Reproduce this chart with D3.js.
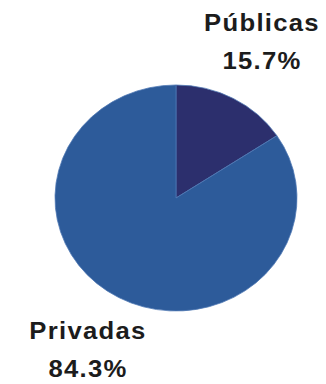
<!DOCTYPE html>
<html>
<head>
<meta charset="utf-8">
<script src="https://cdn.jsdelivr.net/npm/d3@7"></script>
<style>
  html, body { margin: 0; padding: 0; background: #ffffff; }
  svg { display: block; }
</style>
</head>
<body>
<script>
// Share of institutions by type (percent)
const categories = ["Públicas", "Privadas"];
const shares = [15.7, 84.3];
const colors = ["#2c2f6d", "#2d5b9a"];

const width = 326, height = 384;
const svg = d3.select("body").append("svg")
  .attr("width", width).attr("height", height);

const cx = 176, cy = 198, radius = 121, squash = 0.934;

const pie = d3.pie().sort(null).value(d => d.value);
const arc = d3.arc().innerRadius(0).outerRadius(radius);
const data = categories.map((c, i) => ({ name: c, value: shares[i], color: colors[i] }));

const g = svg.append("g")
  .attr("transform", `translate(${cx},${cy}) scale(1,${squash})`);

g.selectAll("path")
  .data(pie(data))
  .join("path")
  .attr("d", arc)
  .attr("fill", d => d.data.color)
  .attr("stroke", "#4f78b4")
  .attr("stroke-width", 0.8);

// Slice labels: name on one line, percentage below
const labelPos = [
  { x: 262, y1: 31, y2: 69 },
  { x: 88, y1: 339, y2: 377 }
];

const labels = svg.append("g")
  .attr("font-family", "'Liberation Sans', Arial, sans-serif")
  .attr("font-weight", "bold")
  .attr("font-size", 24)
  .attr("fill", "#1c1c1c")
  .attr("text-anchor", "middle");

data.forEach((d, i) => {
  const p = labelPos[i];
  labels.append("text")
    .attr("transform", `translate(${p.x},${p.y1}) scale(1.07,1)`)
    .attr("letter-spacing", 1.2)
    .text(d.name);
  labels.append("text")
    .attr("transform", `translate(${p.x},${p.y2}) scale(1.07,1)`)
    .attr("letter-spacing", 1.2)
    .text(d3.format(".1f")(d.value) + "%");
});
</script>
</body>
</html>
